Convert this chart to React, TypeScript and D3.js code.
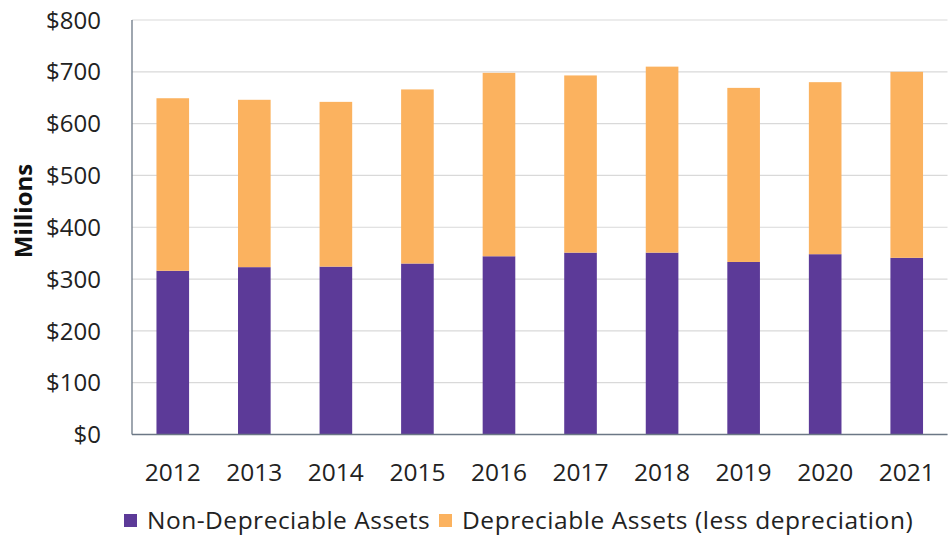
import React from "react";
import * as d3 from "d3";

const years = ["2012", "2013", "2014", "2015", "2016", "2017", "2018", "2019", "2020", "2021"];
const nonDepreciable = [316, 323, 324, 330, 344, 351, 351, 333, 348, 341];
const depreciable = [333, 323, 318, 336, 354, 342, 359, 336, 332, 359];
const yTicks = [0, 100, 200, 300, 400, 500, 600, 700, 800];
const seriesNames = ["Non-Depreciable Assets", "Depreciable Assets (less depreciation)"];
const colors = ["#5c3a98", "#fbb25f"];

export default function App() {
  const W = 949, H = 535;
  const left = 132, right = 947.5, top = 20, bottom = 434.5;
  const font = "'Open Sans', sans-serif";

  const x = d3.scaleBand<string>().domain(years).range([left, right]).paddingInner(0.6).paddingOuter(0.3);
  const y = d3.scaleLinear().domain([0, 800]).range([bottom, top]);

  const rows = years.map((yr, i) => ({ year: yr, a: nonDepreciable[i], b: depreciable[i] }));
  const stacked = d3.stack<any>().keys(["a", "b"])(rows);

  return (
    <svg width={W} height={H} style={{ position: "absolute", left: 0, top: 0, background: "#fff" }}>
      {yTicks.map((t) => (
        <line key={"g" + t} x1={left} x2={right} y1={y(t)} y2={y(t)} stroke="#d9d9d9" strokeWidth={1.2} />
      ))}
      {stacked.map((s, si) =>
        s.map((d, i) => (
          <rect
            key={si + "-" + i}
            x={x(years[i])}
            width={x.bandwidth()}
            y={y(d[1])}
            height={y(d[0]) - y(d[1])}
            fill={colors[si]}
          />
        ))
      )}
      <line x1={left} x2={left} y1={top} y2={bottom} stroke="#6b7785" strokeWidth={1.3} />
      <line x1={left} x2={right} y1={bottom} y2={bottom} stroke="#6b7785" strokeWidth={1.3} />
      {yTicks.map((t) => (
        <text key={"t" + t} x={101} y={y(t)} dy="0.36em" textAnchor="end" fontFamily={font} fontSize={24} fill="#222">
          {"$" + t}
        </text>
      ))}
      {years.map((yr) => (
        <text key={yr} x={x(yr)! + x.bandwidth() / 2} y={481} textAnchor="middle" fontFamily={font} fontSize={24.5} fill="#222">
          {yr}
        </text>
      ))}
      <text transform="translate(32,211) rotate(-90)" textAnchor="middle" fontFamily={font} fontSize={24} fontWeight="bold" fill="#111">
        Millions
      </text>
      <rect x={124} y={514} width={13} height={13} fill={colors[0]} />
      <text x={147} y={529} fontFamily={font} fontSize={24.5} letterSpacing={0.5} fill="#222">{seriesNames[0]}</text>
      <rect x={439} y={514} width={13} height={13} fill={colors[1]} />
      <text x={462} y={529} fontFamily={font} fontSize={24.5} letterSpacing={0.55} fill="#222">{seriesNames[1]}</text>
    </svg>
  );
}
